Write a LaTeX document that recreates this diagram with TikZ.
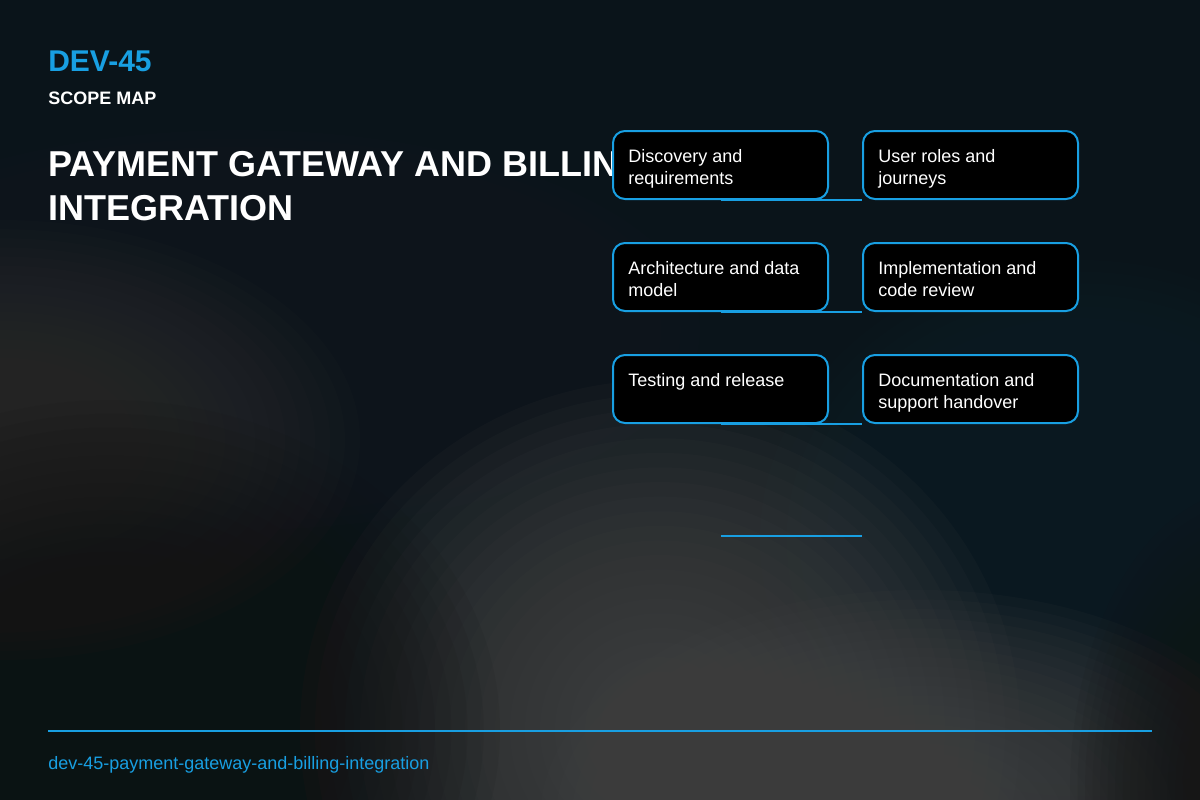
\documentclass[tikz,border=0pt]{standalone}
\usepackage{fontspec}
\setmainfont{Liberation Sans}
\definecolor{accent}{HTML}{189FE2}
\definecolor{bgbase}{HTML}{0A141A}
\definecolor{bgnavy}{HTML}{181E26}
\definecolor{bggreyL}{HTML}{2E2E2E}
\definecolor{bgdarkL}{HTML}{131313}
\definecolor{bggreyB}{HTML}{464646}
\definecolor{bgdarkR}{HTML}{161616}
\definecolor{bgteal}{HTML}{14232B}
\newcommand\bgblob[5]{%
  \foreach \k in {1,...,24} {
    \fill[#1, opacity=0.09] (#2,#3) ellipse ({#4*\k/24} and {#5*\k/24});
  }}
\begin{document}
\begin{tikzpicture}[x=0.75pt,y=-0.75pt,
  stepbox/.style={draw=accent, line width=1.5pt, fill=black, rounded corners=9pt,
    minimum width=161.25pt, minimum height=51pt, inner sep=0pt, anchor=north west},
  lbl/.style={text=white, font=\fontsize{13.5}{16.5}\selectfont, anchor=north west,
    inner sep=0pt, align=left},
  conn/.style={draw=accent, line width=1.5pt}]
\useasboundingbox (0,0) rectangle (1200,800);
% background
\fill[bgbase] (0,0) rectangle (1200,800);
\begin{scope}
\clip (0,0) rectangle (1200,800);
\bgblob{bgnavy}{240}{330}{460}{200}
\bgblob{bggreyL}{0}{440}{360}{220}
\bgblob{bgteal}{1080}{540}{320}{280}
\bgblob{bggreyB}{660}{730}{360}{350}
\bgblob{bggreyB}{920}{820}{380}{230}
\bgblob{bgdarkL}{110}{730}{390}{330}
\bgblob{bgdarkR}{1250}{790}{180}{300}
\end{scope}
% header
\node[anchor=base west, inner sep=0pt, text=accent, font=\fontsize{22.5}{27}\selectfont\bfseries] (key) at (48,71) {DEV-45};
\node[anchor=base west, inner sep=0pt, text=white, font=\fontsize{13.5}{16}\selectfont\bfseries] (kind) at (48,104.5) {SCOPE MAP};
\node[anchor=north west, inner sep=0pt, align=left, text=white, font=\fontsize{27}{33}\selectfont\bfseries] (title) at (48,145.7) {\strut PAYMENT GATEWAY AND BILLING\\INTEGRATION};
% boxes
\node[stepbox] (b1) at (612,130) {};
\node[stepbox] (b2) at (862,130) {};
\node[stepbox] (b3) at (612,242) {};
\node[stepbox] (b4) at (862,242) {};
\node[stepbox] (b5) at (612,354) {};
\node[stepbox] (b6) at (862,354) {};
\node[lbl] (t1) at (628,146.6) {\strut Discovery and\\requirements};
\node[lbl] (t2) at (878,146.6) {\strut User roles and\\journeys};
\node[lbl] (t3) at (628,258.6) {\strut Architecture and data\\model};
\node[lbl] (t4) at (878,258.6) {\strut Implementation and\\code review};
\node[lbl] (t5) at (628,370.6) {\strut Testing and release};
\node[lbl] (t6) at (878,370.6) {\strut Documentation and\\support handover};
% connectors
\draw[conn] (b1.south) -- (b1.south -| b2.west);
\draw[conn] (b3.south) -- (b3.south -| b4.west);
\draw[conn] (b5.south) -- (b5.south -| b6.west);
\coordinate (c7a) at ([yshift=-84pt]b5.south);
\coordinate (c7b) at (c7a -| b6.west);
\draw[conn] (c7a) -- (c7b);
% footer
\coordinate (fl1) at (48,731);
\coordinate (fl2) at (1152,731);
\draw[conn] (fl1) -- (fl2);
\node[anchor=base west, inner sep=0pt, text=accent, font=\fontsize{13.5}{16}\selectfont] (slug) at (48,769) {dev-45-payment-gateway-and-billing-integration};
\end{tikzpicture}
\end{document}
